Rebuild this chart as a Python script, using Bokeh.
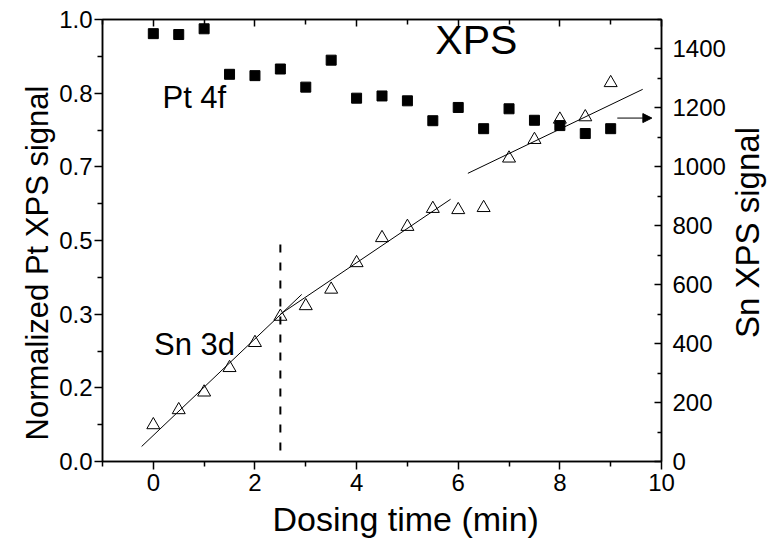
import math
from bokeh.plotting import figure
from bokeh.layouts import row
from bokeh.models import (Range1d, LinearAxis, FixedTicker, Label, Arrow, NormalHead,
                          CustomLabelingPolicy, Title)
from bokeh.embed import file_html
from bokeh.resources import INLINE

# ---- data ----
time_min = [0, 0.5, 1, 1.5, 2, 2.5, 3, 3.5, 4, 4.5, 5, 5.5, 6, 6.5, 7, 7.5, 8, 8.5, 9]
pt_signal = [0.968, 0.966, 0.979, 0.876, 0.873, 0.888, 0.847, 0.908, 0.822, 0.827,
             0.816, 0.771, 0.801, 0.753, 0.798, 0.772, 0.760, 0.742, 0.753]
sn_signal = [124, 175, 235, 318, 403, 492, 528, 584, 674, 759,
             797, 858, 854, 861, 1029, 1092, 1161, 1169, 1285]

fit1_x = [-0.23, 2.92]
fit1_y = [51, 567]
fit2_x = [2.5, 5.85]
fit2_y = [500, 890]
fit3_x = [6.19, 9.63]
fit3_y = [978, 1263]

dash_x = [2.5, 2.5]
dash_y = [0.025, 0.493]

x_ticks = [0, 2, 4, 6, 8, 10]
x_minor_ticks = [-1, 1, 3, 5, 7, 9]
pt_tick_labels = ["0.0", "0.2", "0.3", "0.5", "0.7", "0.8", "1.0"]
sn_ticks = [0, 200, 400, 600, 800, 1000, 1200, 1400]
sn_minor_ticks = [100, 300, 500, 700, 900, 1100, 1300, 1500]

FONT = "Liberation Sans"
TICK_FS = "24px"
ANNO_FS = "31px"

TOP, FRAME_H, BOTTOM = 19, 442, 86
TOTAL_H = TOP + FRAME_H + BOTTOM

pt_tick_pos = [i / (len(pt_tick_labels) - 1) for i in range(len(pt_tick_labels))]
pt_minor_pos = [(pt_tick_pos[i] + pt_tick_pos[i + 1]) / 2 for i in range(len(pt_tick_pos) - 1)]

p = figure(frame_width=559, frame_height=FRAME_H,
           x_range=Range1d(-1, 10), y_range=Range1d(0, 1),
           output_backend="svg", toolbar_location=None,
           min_border_left=102, min_border_top=TOP, min_border_right=66, min_border_bottom=BOTTOM,
           background_fill_color="white", border_fill_color="white")
p.extra_y_ranges = {"sn": Range1d(0, 1500)}
p.grid.visible = False
p.outline_line_color = "black"
p.outline_line_width = 1.5


def style_axis(ax):
    ax.axis_line_color = "black"
    ax.axis_line_width = 1.5
    ax.major_tick_line_color = "black"
    ax.minor_tick_line_color = "black"
    ax.major_tick_line_width = 1.5
    ax.minor_tick_line_width = 1.5
    ax.major_label_text_font = FONT
    ax.major_label_text_font_size = TICK_FS
    ax.major_label_text_color = "black"


# bottom axis
xa = p.xaxis[0]
style_axis(xa)
xa.ticker = FixedTicker(ticks=x_ticks, minor_ticks=x_minor_ticks)
xa.major_tick_in = 0
xa.major_tick_out = 8
xa.minor_tick_in = 0
xa.minor_tick_out = 5
xa.major_label_standoff = 4

# left axis
ya = p.yaxis[0]
style_axis(ya)
ya.ticker = FixedTicker(ticks=pt_tick_pos, minor_ticks=pt_minor_pos)
ya.major_label_overrides = {pos: lab for pos, lab in zip(pt_tick_pos, pt_tick_labels)}
ya.major_tick_in = 0
ya.major_tick_out = 8
ya.minor_tick_in = 0
ya.minor_tick_out = 5
ya.major_label_standoff = 2

# right axis
ra = LinearAxis(y_range_name="sn",
                ticker=FixedTicker(ticks=sn_ticks, minor_ticks=sn_minor_ticks))
style_axis(ra)
ra.major_tick_in = 7
ra.major_tick_out = 0
ra.minor_tick_in = 4
ra.minor_tick_out = 0
ra.major_label_standoff = 11
p.add_layout(ra, "right")

# top axis (ticks only, no labels)
ta = LinearAxis(ticker=FixedTicker(ticks=x_ticks, minor_ticks=x_minor_ticks),
                major_label_policy=CustomLabelingPolicy(code="return new Set()"))
style_axis(ta)
ta.major_label_text_font_size = "1px"
ta.major_label_standoff = 0
ta.major_tick_in = 7
ta.major_tick_out = 0
ta.minor_tick_in = 5
ta.minor_tick_out = 0
p.add_layout(ta, "above")

# axis titles (side titles, offset as in the reference)
p.add_layout(Title(text="Dosing time (min)", align="left", offset=170, standoff=9,
                   text_font=FONT, text_font_size="34px", text_font_style="normal",
                   text_color="black"), "below")
p.add_layout(Title(text="Normalized Pt XPS signal", align="left", offset=21, standoff=4,
                   text_font=FONT, text_font_size="31px", text_font_style="normal",
                   text_color="black"), "left")

# data
p.scatter(time_min, pt_signal, marker="square", size=10,
          fill_color="black", line_color="black")
p.scatter(time_min, sn_signal, marker="triangle", size=13, y_range_name="sn",
          fill_color=None, line_color="black", line_width=1)

for fx, fy in ((fit1_x, fit1_y), (fit2_x, fit2_y), (fit3_x, fit3_y)):
    p.line(fx, fy, y_range_name="sn", line_color="black", line_width=1)

p.line(dash_x, dash_y, line_color="black", line_width=2, line_dash="8 10")

p.add_layout(Arrow(end=NormalHead(size=9, fill_color="black", line_color="black"),
                   x_start=9.13, y_start=0.777, x_end=9.81, y_end=0.777,
                   line_color="black", line_width=1))


def add_text(fig, x, y, text, size, angle=0.0, align="left"):
    fig.add_layout(Label(x=x, y=y, text=text, text_font=FONT, text_font_size=size,
                         text_color="black", text_baseline="middle", text_align=align,
                         angle=angle))


add_text(p, 5.55, 0.953, "XPS", "41px")
add_text(p, 0.18, 0.8235, "Pt 4f", ANNO_FS)
add_text(p, 0.014, 0.2647, "Sn 3d", ANNO_FS)

# right-hand axis title, reading bottom-to-top as in the reference
q = figure(frame_width=42, frame_height=TOTAL_H,
           x_range=Range1d(0, 42), y_range=Range1d(TOTAL_H, 0),
           output_backend="svg", toolbar_location=None,
           x_axis_location=None, y_axis_location=None,
           min_border_left=0, min_border_right=0, min_border_top=0, min_border_bottom=0,
           background_fill_color="white", border_fill_color="white")
q.grid.visible = False
q.outline_line_color = None
add_text(q, 19, 213, "Sn XPS signal", "33px", angle=math.pi / 2, align="center")

layout = row(p, q, spacing=0)
open("out.html", "w").write(file_html(layout, INLINE))
